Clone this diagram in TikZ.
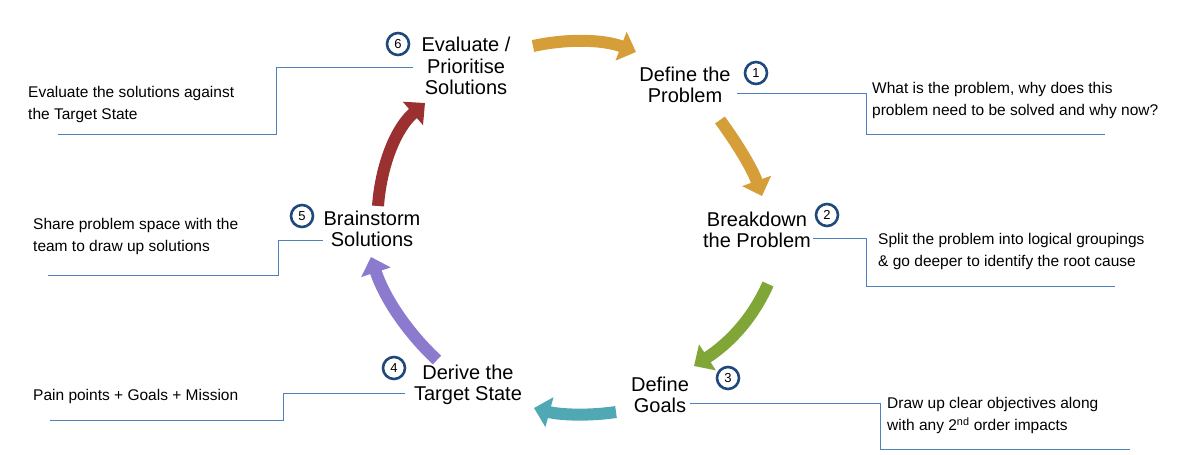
\documentclass[tikz,border=0pt]{standalone}
\usepackage{fontspec}
\setmainfont{Liberation Sans}
\usetikzlibrary{arrows.meta}
\definecolor{gold}{RGB}{214,158,56}
\definecolor{grn}{RGB}{128,166,56}
\definecolor{teal2}{RGB}{80,168,180}
\definecolor{purp}{RGB}{140,122,206}
\definecolor{redd}{RGB}{155,48,48}
\definecolor{navy}{RGB}{31,73,125}
\definecolor{lblue}{RGB}{79,129,189}
\tikzset{
 big/.style={-{Triangle[width=30pt,length=16pt]},line width=12pt},
 lab/.style={font=\fontsize{20}{21.5}\selectfont,align=center,inner sep=0pt},
 num/.style={circle,draw=navy,line width=2.6pt,minimum size=22pt,inner sep=0pt,font=\fontsize{13}{13}\selectfont},
 desc/.style={font=\fontsize{15.5}{22}\selectfont,align=left,anchor=north west,inner sep=0pt},
 lead/.style={draw=lblue,line width=0.8pt}
}
\begin{document}
\begin{tikzpicture}[x=1pt,y=-1pt]
\useasboundingbox (0,0) rectangle (1200,455);
% labels
\node[lab] (l6) at (466,66) {Evaluate /\\Prioritise\\Solutions};
\node[num] (n6) at (398,44) {6};
\node[lab] (l1) at (685,85) {Define the\\Problem};
\node[num] (n1) at (756,73) {1};
\node[lab] (l2) at (757,230) {Breakdown\\the Problem};
\node[num] (n2) at (827,215) {2};
\node[lab] (l3) at (660,395) {Define\\Goals};
\node[num] (n3) at (728,378) {3};
\node[lab] (l4) at (468,385) {Derive the\\Target State};
\node[num] (n4) at (394,368) {4};
\node[lab] (l5) at (372,229) {Brainstorm\\Solutions};
\node[num] (n5) at (302,216) {5};
% arrows
\coordinate (a1) at (533,46); \coordinate (b1) at (636,52);
\draw[big,gold] (a1) .. controls (570,38) and (605,40) .. (b1);
\coordinate (a2) at (720,120); \coordinate (b2) at (762,196);
\draw[big,gold] (a2) .. controls (738,145) and (752,168) .. (b2);
\coordinate (a3) at (768,284); \coordinate (b3) at (694,366);
\draw[big,grn] (a3) .. controls (752,320) and (728,344) .. (b3);
\coordinate (a4) at (616,412); \coordinate (b4) at (534,408);
\draw[big,teal2] (a4) .. controls (590,416) and (560,415) .. (b4);
\coordinate (a5) at (437,360); \coordinate (b5) at (371,257);
\draw[big,purp] (a5) .. controls (410,335) and (385,300) .. (b5);
\coordinate (a6) at (378,206); \coordinate (b6) at (425,103);
\draw[big,redd] (a6) .. controls (381,165) and (396,128) .. (b6);
% descriptions
\node[desc] (d6) at (28,86) {Evaluate the solutions against\\the Target State};
\coordinate (p6) at (413,67);
\draw[lead] (p6) -- (276,67) -- (276,134) -- (58,134);
\node[desc] (d1) at (872,82) {What is the problem, why does this\\problem need to be solved and why now?};
\coordinate (p1) at (737,93);
\draw[lead] (p1) -- (866,93) -- (866,134) -- (1105,134);
\node[desc] (d2) at (878,233) {Split the problem into logical groupings\\\& go deeper to identify the root cause};
\coordinate (p2) at (813,238);
\draw[lead] (p2) -- (866,238) -- (866,286) -- (1115,286);
\node[desc] (d3) at (887,397) {Draw up clear objectives along\\with any 2\textsuperscript{nd} order impacts};
\coordinate (p3) at (690,403);
\draw[lead] (p3) -- (880,403) -- (880,449) -- (1130,449);
\node[desc] (d4) at (33,389) {Pain points + Goals + Mission};
\coordinate (p4) at (405,393);
\draw[lead] (p4) -- (283,393) -- (283,420) -- (50,420);
\node[desc] (d5) at (33,218) {Share problem space with the\\team to draw up solutions};
\coordinate (p5) at (323,240);
\draw[lead] (p5) -- (278,240) -- (278,275) -- (48,275);
\end{tikzpicture}
\end{document}
